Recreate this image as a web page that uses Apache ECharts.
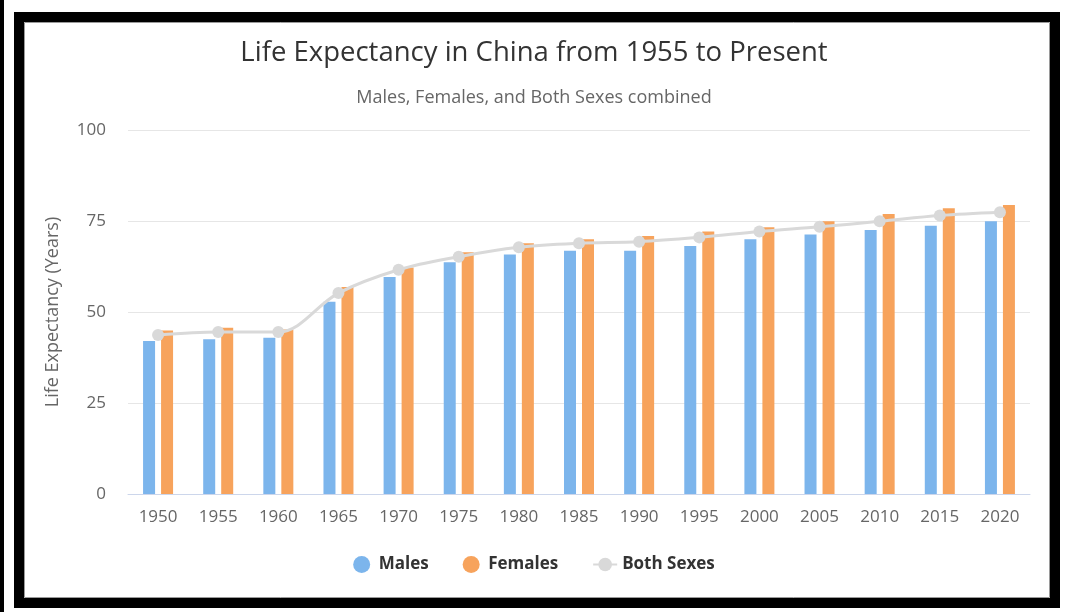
<!DOCTYPE html>
<html>
<head>
<meta charset="utf-8">
<script src="https://cdn.jsdelivr.net/npm/echarts@6/dist/echarts.min.js"></script>
<style>
html,body{margin:0;padding:0;background:#fff;}
#chart{width:1068px;height:612px;}
</style>
</head>
<body>
<div id="chart"></div>
<script>
const years = ['1950','1955','1960','1965','1970','1975','1980','1985','1990','1995','2000','2005','2010','2015','2020'];
const males = [42.0, 42.5, 42.9, 52.8, 59.6, 63.7, 65.8, 66.8, 66.8, 68.1, 70.0, 71.3, 72.5, 73.7, 74.9];
const females = [44.9, 45.7, 45.2, 56.9, 62.2, 66.4, 68.9, 70.0, 70.9, 72.1, 73.3, 74.9, 76.9, 78.5, 79.4];
const both = [43.7, 44.5, 44.5, 55.2, 61.6, 65.2, 67.8, 68.9, 69.3, 70.5, 72.1, 73.4, 74.9, 76.5, 77.4];
const yTicks = [0, 25, 50, 75, 100];

const FONT = '"Open Sans", "DejaVu Sans", sans-serif';
const chart = echarts.init(document.getElementById('chart'), null, {renderer: 'canvas'});
chart.setOption({
  backgroundColor: '#ffffff',
  animation: false,
  textStyle: {fontFamily: FONT},
  graphic: [
    {type: 'rect', shape: {x: 0, y: 0, width: 4, height: 612}, style: {fill: '#000'}, silent: true},
    {type: 'rect', shape: {x: 19, y: 17, width: 1036, height: 586}, style: {fill: 'none', stroke: '#000', lineWidth: 10}, silent: true},
    {type: 'rect', shape: {x: 24.5, y: 22.5, width: 1025, height: 575}, style: {fill: 'none', stroke: '#9a9a9a', lineWidth: 1}, silent: true}
  ],
  title: [
    {text: 'Life Expectancy in China from 1955 to Present', left: 'center', top: 34,
     textStyle: {fontFamily: FONT, fontSize: 27.5, fontWeight: 'normal', color: '#333333'}},
    {text: 'Males, Females, and Both Sexes combined', left: 'center', top: 84,
     textStyle: {fontFamily: FONT, fontSize: 18, fontWeight: 'normal', color: '#666666'}}
  ],
  legend: {
    bottom: 34,
    left: 'center',
    itemGap: 34,
    itemWidth: 24,
    itemHeight: 17,
    textStyle: {fontFamily: FONT, fontSize: 17, fontWeight: 'bold', color: '#333333'},
    data: [
      {name: 'Males', icon: 'circle'},
      {name: 'Females', icon: 'circle'},
      {name: 'Both Sexes'}
    ]
  },
  grid: {left: 128, right: 38, top: 130, bottom: 118, containLabel: false},
  xAxis: {
    type: 'category',
    data: years,
    axisLine: {lineStyle: {color: '#ccd6eb', width: 1}},
    axisTick: {show: false},
    axisLabel: {color: '#666666', fontSize: 17, fontFamily: FONT, margin: 15}
  },
  yAxis: {
    type: 'value',
    min: yTicks[0],
    max: yTicks[yTicks.length - 1],
    interval: 25,
    name: 'Life Expectancy (Years)',
    nameLocation: 'middle',
    nameGap: 66,
    nameTextStyle: {color: '#666666', fontSize: 18, fontFamily: FONT},
    axisLine: {show: false},
    axisTick: {show: false},
    axisLabel: {color: '#666666', fontSize: 17, fontFamily: FONT, margin: 22},
    splitLine: {lineStyle: {color: '#e6e6e6', width: 1}}
  },
  series: [
    {name: 'Males', type: 'bar', data: males, barWidth: 12, barGap: '50%',
     itemStyle: {color: '#7cb5ec'}},
    {name: 'Females', type: 'bar', data: females, barWidth: 12,
     itemStyle: {color: '#f7a35c'}},
    {name: 'Both Sexes', type: 'line', data: both, smooth: 0.35,
     symbol: 'circle', symbolSize: 12, z: 5,
     lineStyle: {color: '#d9d9d9', width: 3},
     itemStyle: {color: '#d9d9d9'}}
  ]
});
</script>
</body>
</html>
